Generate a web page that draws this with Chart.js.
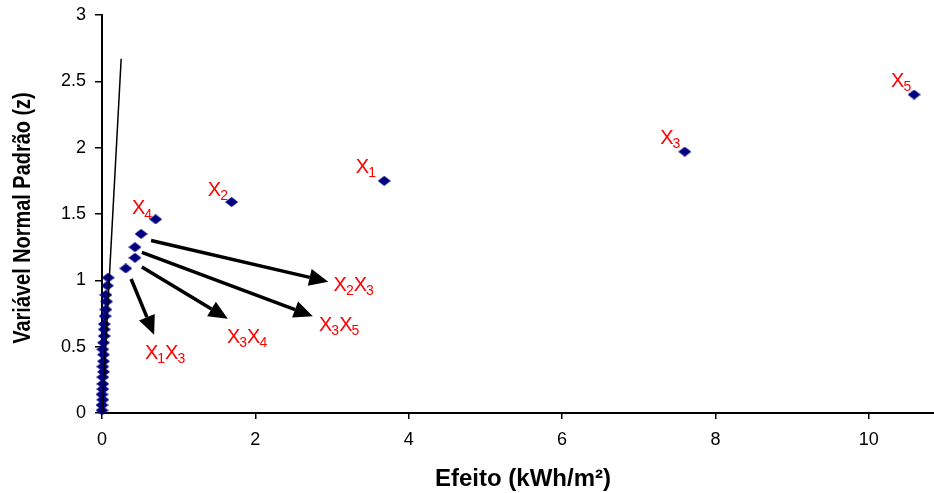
<!DOCTYPE html>
<html><head><meta charset="utf-8">
<script src="https://cdn.jsdelivr.net/npm/chart.js@4/dist/chart.umd.min.js"></script>
<style>html,body{margin:0;padding:0;background:#fff}#wrap{width:934px;height:493px}</style>
</head><body><div id="wrap"><canvas id="c" width="934" height="493"></canvas></div>
<script>
// small (non-significant) effects, clustered near zero
const clusterX = [0.00,0.00,0.01,0.00,0.01,0.01,0.01,0.02,0.01,0.02,0.02,0.01,0.02,0.03,0.03,0.03,0.04,0.05,0.06,0.05,0.07,0.08];
const clusterZ = [0.02,0.06,0.10,0.14,0.18,0.22,0.27,0.31,0.35,0.39,0.44,0.48,0.53,0.58,0.63,0.67,0.73,0.78,0.84,0.89,0.96,1.02];
// larger effects
const effectX = [0.31,0.43,0.43,0.51,0.70,1.69,3.68,7.60,10.59];
const effectZ = [1.09,1.17,1.25,1.35,1.46,1.59,1.75,1.97,2.40];
// reference line
const refLineX = [0, 0.25];
const refLineZ = [0, 2.67];
// axes
const xTicks = [0,2,4,6,8,10];
const xTickLabels = ['0','2','4','6','8','10'];
const yTicks = [0,0.5,1,1.5,2,2.5,3];
const yTickLabels = ['0','0.5','1','1.5','2','2.5','3'];
const xTitle = 'Efeito (kWh/m²)';
const yTitle = 'Variável Normal Padrão (z)';
// effect labels (digits drawn as subscripts)
const labelNames = ['X1X3','X3X4','X3X5','X2X3','X4','X2','X1','X3','X5'];
const labelX = [0.56,1.63,2.83,3.02,0.39,1.38,3.31,7.28,10.29];
const labelZ = [0.45,0.57,0.66,0.96,1.54,1.68,1.85,2.07,2.50];
// arrows
const arrowFromX = [0.38,0.52,0.52,0.64];
const arrowFromZ = [1.01,1.10,1.21,1.30];
const arrowToX = [0.68,1.64,2.75,2.95];
const arrowToZ = [0.59,0.71,0.73,0.99];

const FONT = '"Liberation Sans", Arial, sans-serif';

// flattened diamond marker (Excel style)
const diamond = document.createElement('canvas');
diamond.width = 13; diamond.height = 10;
(function () {
  const g = diamond.getContext('2d');
  g.fillStyle = '#000080';
  g.beginPath();
  g.moveTo(0, 5); g.lineTo(6.5, 0); g.lineTo(13, 5); g.lineTo(6.5, 10);
  g.closePath(); g.fill();
})();

function drawLabel(ctx, name, x, y) {
  let cx = x;
  for (const ch of name) {
    if (/[0-9]/.test(ch)) {
      ctx.font = '14px ' + FONT;
      ctx.fillText(ch, cx - 1, y + 6);
      cx += ctx.measureText(ch).width - 1;
    } else {
      ctx.font = '20px ' + FONT;
      ctx.fillText(ch, cx, y);
      cx += ctx.measureText(ch).width;
    }
  }
}

const overlay = {
  id: 'overlay',
  afterDatasetsDraw(chart) {
    const ctx = chart.ctx, xs = chart.scales.x, ys = chart.scales.y;
    ctx.save();
    // arrows
    ctx.strokeStyle = '#000'; ctx.fillStyle = '#000'; ctx.lineWidth = 3.5;
    for (let i = 0; i < arrowFromX.length; i++) {
      const x0 = xs.getPixelForValue(arrowFromX[i]), y0 = ys.getPixelForValue(arrowFromZ[i]);
      const x1 = xs.getPixelForValue(arrowToX[i]), y1 = ys.getPixelForValue(arrowToZ[i]);
      const a = Math.atan2(y1 - y0, x1 - x0), L = 19, W = 8.5;
      const bx = x1 - L * Math.cos(a), by = y1 - L * Math.sin(a);
      ctx.beginPath(); ctx.moveTo(x0, y0); ctx.lineTo(bx, by); ctx.stroke();
      ctx.beginPath();
      ctx.moveTo(x1, y1);
      ctx.lineTo(bx + W * Math.sin(a), by - W * Math.cos(a));
      ctx.lineTo(bx - W * Math.sin(a), by + W * Math.cos(a));
      ctx.closePath(); ctx.fill();
    }
    // labels
    ctx.fillStyle = '#ff0000'; ctx.textBaseline = 'middle'; ctx.textAlign = 'left';
    for (let i = 0; i < labelNames.length; i++) {
      drawLabel(ctx, labelNames[i], xs.getPixelForValue(labelX[i]), ys.getPixelForValue(labelZ[i]));
    }
    ctx.restore();
  },
  afterDraw(chart) {
    const ctx = chart.ctx, xs = chart.scales.x, ys = chart.scales.y;
    ctx.save();
    ctx.fillStyle = '#000';
    ctx.font = '18px ' + FONT;
    ctx.textBaseline = 'middle';
    ctx.textAlign = 'right';
    yTicks.forEach((v, i) => ctx.fillText(yTickLabels[i], 86, ys.getPixelForValue(v)));
    ctx.textAlign = 'center';
    xTicks.forEach((v, i) => ctx.fillText(xTickLabels[i], xs.getPixelForValue(v), 440));
    ctx.font = 'bold 24px ' + FONT;
    ctx.fillText(xTitle, 523, 479);
    ctx.translate(23, (ys.top + ys.bottom) / 2 + 4);
    ctx.rotate(-Math.PI / 2);
    ctx.scale(0.83, 1);
    ctx.fillText(yTitle, 0, 0);
    ctx.restore();
  }
};

new Chart(document.getElementById('c'), {
  type: 'scatter',
  data: {
    datasets: [
      {
        type: 'line',
        data: refLineX.map((x, i) => ({x, y: refLineZ[i]})),
        borderColor: '#000', borderWidth: 1.5, pointRadius: 0, fill: false, order: 0, clip: false
      },
      {
        data: clusterX.map((x, i) => ({x, y: clusterZ[i]})).concat(effectX.map((x, i) => ({x, y: effectZ[i]}))),
        pointStyle: diamond, pointRadius: 6, pointHoverRadius: 6,
        backgroundColor: '#000080', borderColor: '#000080', borderWidth: 0, order: 1, clip: false
      }
    ]
  },
  options: {
    responsive: false, animation: false, devicePixelRatio: 1,
    layout: {autoPadding: false, padding: {top: 15, right: 0, left: 0, bottom: 0}},
    plugins: {legend: {display: false}, tooltip: {enabled: false}},
    scales: {
      x: {
        type: 'linear', min: 0, max: 10.85,
        afterBuildTicks: s => { s.ticks = xTicks.map(v => ({value: v})); },
        afterFit: s => { s.height = 80; },
        ticks: {color: 'rgba(0,0,0,0)', font: {size: 17}},
        grid: {drawOnChartArea: false, drawTicks: true, tickLength: 6, color: '#000', lineWidth: 1.5},
        border: {display: true, color: '#000', width: 2}
      },
      y: {
        type: 'linear', min: 0, max: 3,
        afterBuildTicks: s => { s.ticks = yTicks.map(v => ({value: v})); },
        afterFit: s => { s.width = 102; },
        ticks: {color: 'rgba(0,0,0,0)', font: {size: 17}},
        grid: {drawOnChartArea: false, drawTicks: true, tickLength: 7, color: '#000', lineWidth: 1.5},
        border: {display: true, color: '#000', width: 2}
      }
    }
  },
  plugins: [overlay]
});
</script>
</body></html>
